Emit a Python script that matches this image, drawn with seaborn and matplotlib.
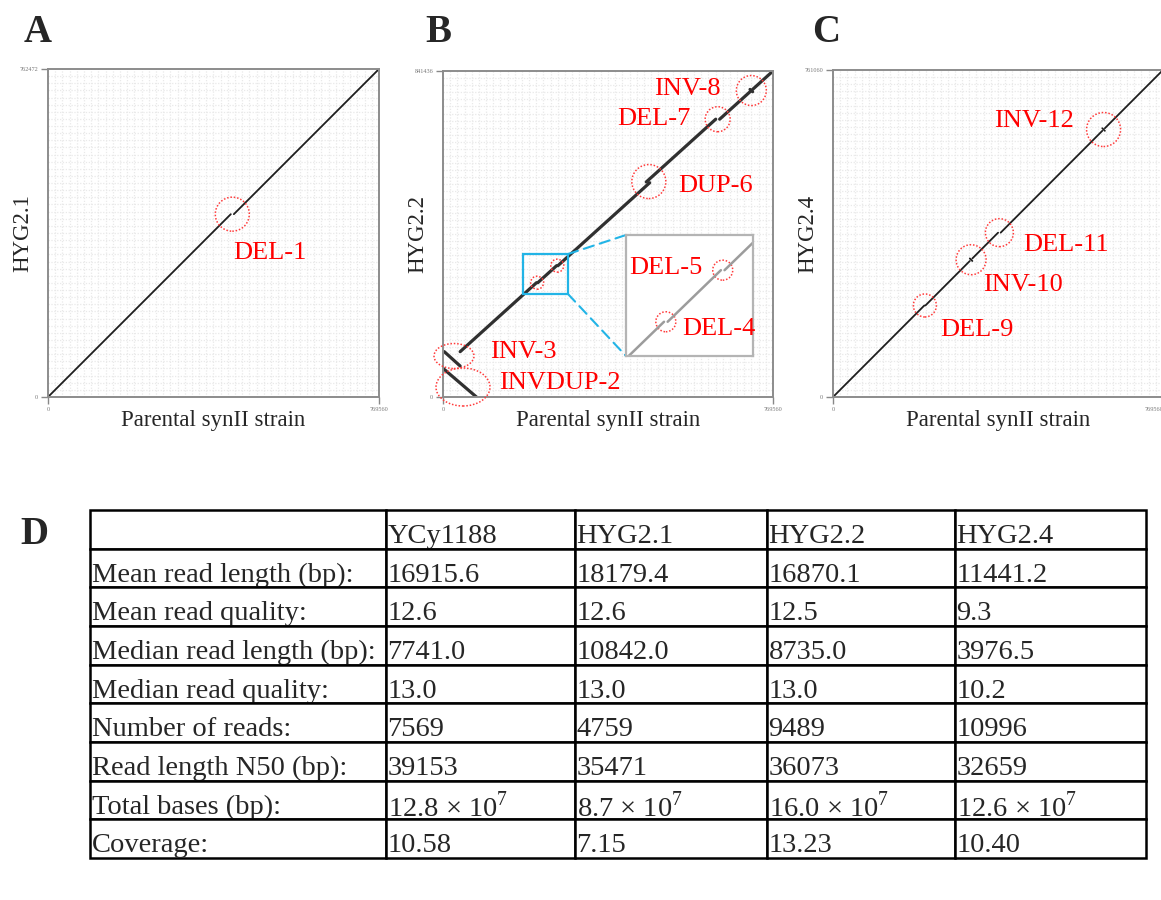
import pandas as pd
import seaborn as sns
import matplotlib.pyplot as plt
from matplotlib.patches import Ellipse, Rectangle, ConnectionPatch
from matplotlib.ticker import MultipleLocator
from matplotlib.transforms import Affine2D

sns.set_style('white')
plt.rcParams['font.family'] = ['Liberation Serif', 'DejaVu Serif']
plt.rcParams['mathtext.fontset'] = 'custom'
plt.rcParams['mathtext.rm'] = 'Liberation Serif'

W, H = 1161, 900

# genome lengths (bp)
parent_len = 769560
hyg21_len = 762472
hyg22_len = 841436
hyg24_len = 761060

# aligned segments of each dot plot: start (x0, y0) -> end (x1, y1)
a_x0 = [0, 432088]
a_y0 = [0, 425000]
a_x1 = [425000, 769560]
a_y1 = [425000, 762472]

b_x0 = [0, 3000, 40000, 221000, 268000, 474000, 645124, 716000, 722000]
b_y0 = [74000, 117000, 117000, 295000, 339000, 555000, 717000, 793876, 793876]
b_x1 = [78000, 40000, 218000, 265000, 482000, 636000, 716000, 722000, 769560]
b_y1 = [0, 80000, 295000, 339000, 553000, 717000, 787876, 787876, 841436]

c_x0 = [0, 215500, 319000, 325000, 391000, 628000, 634000]
c_y0 = [0, 213000, 322500, 322500, 382500, 625500, 625500]
c_x1 = [213000, 319000, 325000, 385000, 628000, 634000, 769560]
c_y1 = [213000, 316500, 316500, 382500, 619500, 619500, 761060]

# structural variant events
a_events = ['DEL-1']
a_ex = [428500]
a_ey = [425000]

b_events = ['INVDUP-2', 'INV-3', 'DEL-4', 'DEL-5', 'DUP-6', 'DEL-7', 'INV-8']
b_ex = [46600, 25650, 219500, 266500, 480000, 640500, 719000]
b_ey = [25800, 105800, 295000, 339000, 556000, 717000, 791000]

c_events = ['DEL-9', 'INV-10', 'DEL-11', 'INV-12']
c_ex = [214250, 322000, 388000, 631000]
c_ey = [213000, 319500, 382500, 622500]

# zoomed region of panel B
zoom_x = [186600, 291500]
zoom_y = [265800, 369000]

# read statistics table
strains = ['YCy1188', 'HYG2.1', 'HYG2.2', 'HYG2.4']
row_labels = ['Mean read length (bp):', 'Mean read quality:', 'Median read length (bp):',
              'Median read quality:', 'Number of reads:', 'Read length N50 (bp):',
              'Total bases (bp):', 'Coverage:']
mean_len = [16915.6, 18179.4, 16870.1, 11441.2]
mean_q = [12.6, 12.6, 12.5, 9.3]
median_len = [7741.0, 10842.0, 8735.0, 3976.5]
median_q = [13.0, 13.0, 13.0, 10.2]
n_reads = [7569, 4759, 9489, 10996]
n50 = [39153, 35471, 36073, 32659]
total_bases_e7 = [12.8, 8.7, 16.0, 12.6]
coverage = [10.58, 7.15, 13.23, 10.40]


def px_rect(l, t, r, b):
    return [l / W, 1 - b / H, (r - l) / W, (b - t) / H]


def seg_frame(x0, y0, x1, y1):
    rows = []
    for i in range(len(x0)):
        rows.append({'seg': i, 'x': x0[i], 'y': y0[i]})
        rows.append({'seg': i, 'x': x1[i], 'y': y1[i]})
    return pd.DataFrame(rows)


def dotplot(ax, df, ymax, ylabel, lw, color):
    sns.lineplot(data=df, x='x', y='y', units='seg', estimator=None, sort=False,
                 color=color, lw=lw, ax=ax, legend=False)
    ax.set_xlim(0, parent_len)
    ax.set_ylim(0, ymax)
    ax.set_xticks([0, parent_len], ['0', str(parent_len)])
    ax.set_yticks([0, ymax], ['0', str(ymax)])
    ax.xaxis.set_minor_locator(MultipleLocator(parent_len / 46))
    ax.yaxis.set_minor_locator(MultipleLocator(ymax / 46))
    ax.grid(which='minor', color='#e9e9e9', ls=(0, (1, 1.3)), lw=0.9)
    ax.grid(which='major', visible=False)
    ax.tick_params(which='minor', length=0)
    ax.tick_params(which='major', length=5, width=1, color='#888888',
                   labelsize=4.5, labelcolor='#777777', pad=2,
                   left=True, bottom=True)
    for s in ax.spines.values():
        s.set_color('#8c8c8c')
        s.set_linewidth(1.4)
    ax.set_xlabel('Parental synII strain', fontsize=16.5)
    ax.set_ylabel(ylabel, fontsize=16.5)
    ax.xaxis.set_label_coords(0.5, -0.040)
    ax.yaxis.set_label_coords(-0.075, 0.5)
    ax.yaxis.label.set_va('center')


def rings(ax, ex, ey, rx, ry, ax_wpx, ax_hpx, ymax):
    for x, y, a, b in zip(ex, ey, rx, ry):
        ax.add_patch(Ellipse((x, y), 2 * a * parent_len / ax_wpx, 2 * b * ymax / ax_hpx,
                             fill=False, ec='#ff3b3b', lw=1.1, ls=(0, (1, 1.2)),
                             clip_on=False, zorder=4))


def labels(ax, names, ex, ey, offs, has):
    for n, x, y, o, ha in zip(names, ex, ey, offs, has):
        ax.annotate(n, xy=(x, y), xytext=o, textcoords='offset pixels', ha=ha,
                    va='center', color='#ff0000', fontsize=19, zorder=6)


fig = plt.figure(figsize=(W / 100, H / 100), dpi=100)

# ---- A
axA = fig.add_axes(px_rect(48, 69, 379, 397))
dotplot(axA, seg_frame(a_x0, a_y0, a_x1, a_y1), hyg21_len, 'HYG2.1', 1.3, '#1e1e1e')
rings(axA, a_ex, a_ey, [17], [17], 331, 328, hyg21_len)
labels(axA, a_events, a_ex, a_ey, [(1, -39)], ['left'])

# ---- B
axB = fig.add_axes(px_rect(443, 71, 773, 397))
dfB = seg_frame(b_x0, b_y0, b_x1, b_y1)
dotplot(axB, dfB, hyg22_len, 'HYG2.2', 2.3, '#303030')
rings(axB, b_ex, b_ey, [27, 20, 6.5, 6.5, 17, 12.5, 15], [19, 12.5, 6.5, 6.5, 17, 12.5, 15],
      330, 326, hyg22_len)
b_lab = ['INVDUP-2', 'INV-3', 'DUP-6', 'DEL-7', 'INV-8']
b_idx = [b_events.index(n) for n in b_lab]
labels(axB, b_lab, [b_ex[i] for i in b_idx], [b_ey[i] for i in b_idx],
       [(36, 4), (36, 4), (29, -4), (-27, 0), (-31, 2)],
       ['left', 'left', 'left', 'right', 'right'])
axB.add_patch(Rectangle((zoom_x[0], zoom_y[0]), zoom_x[1] - zoom_x[0], zoom_y[1] - zoom_y[0],
                        fill=False, ec='#22b4e6', lw=1.6, zorder=5))

axI = fig.add_axes(px_rect(626, 235, 753, 356), zorder=5)
axI.set_facecolor('white')
sns.lineplot(data=dfB, x='x', y='y', units='seg', estimator=None, sort=False,
             color='#9c9c9c', lw=1.8, ax=axI, legend=False)
axI.set_xlim(zoom_x)
axI.set_ylim(zoom_y)
axI.set_xticks([])
axI.set_yticks([])
axI.set_xlabel('')
axI.set_ylabel('')
for s in axI.spines.values():
    s.set_color('#b4b4b4')
    s.set_linewidth(1.6)
zi = [b_events.index('DEL-4'), b_events.index('DEL-5')]
iw = (zoom_x[1] - zoom_x[0]) / 127
ih = (zoom_y[1] - zoom_y[0]) / 121
for i in zi:
    axI.add_patch(Ellipse((b_ex[i], b_ey[i]), 20 * iw, 20 * ih, fill=False,
                          ec='#ff3b3b', lw=1.1, ls=(0, (1, 1.2)), clip_on=False))
labels(axI, ['DEL-4', 'DEL-5'], [b_ex[i] for i in zi], [b_ey[i] for i in zi],
       [(16, -7), (-20, 2)], ['left', 'right'])
for ya, yb in [(zoom_y[1], 1), (zoom_y[0], 0)]:
    fig.add_artist(ConnectionPatch(xyA=(zoom_x[1], ya), coordsA=axB.transData,
                                   xyB=(0, yb), coordsB=axI.transAxes,
                                   color='#22b4e6', lw=1.5, ls=(0, (5, 3))))

# ---- C
axC = fig.add_axes(px_rect(833, 70, 1163, 397))
dotplot(axC, seg_frame(c_x0, c_y0, c_x1, c_y1), hyg24_len, 'HYG2.4', 1.3, '#1e1e1e')
axC.get_xticklabels()[-1].set_ha('right')
rings(axC, c_ex, c_ey, [11.5, 15, 14, 17], [11.5, 15, 14, 17], 330, 327, hyg24_len)
labels(axC, c_events, c_ex, c_ey, [(15, -25), (12, -25), (24, -12), (-30, 9)],
       ['left', 'left', 'left', 'right'])

# ---- D table
axD = fig.add_axes(px_rect(90, 510, 1146, 858))
axD.axis('off')
cols = [mean_len, mean_q, median_len, median_q, n_reads, n50, total_bases_e7, coverage]
fmts = ['{:.1f}', '{:.1f}', '{:.1f}', '{:.1f}', '{:d}', '{:d}', '{:.1f} × 10$^7$', '{:.2f}']
cell_text = [[''] + strains]
for lab, vals, f in zip(row_labels, cols, fmts):
    cell_text.append([lab] + [f.format(v) for v in vals])
col_w = [296, 189, 192, 188, 191]
tbl = axD.table(cellText=cell_text, colWidths=[c / sum(col_w) for c in col_w],
                cellLoc='left', bbox=[0, 0, 1, 1])
tbl.auto_set_font_size(False)
tbl.set_fontsize(20.5)
for (r, c), cell in tbl.get_celld().items():
    cell.set_linewidth(1.8)
    cell.set_edgecolor('black')
    cell.PAD = 0.008
    cell.get_text().set_transform(Affine2D().translate(0, -7))

# panel letters
for lab, x, y in [('A', 38, 32), ('B', 438, 33), ('C', 826, 33), ('D', 34, 534)]:
    fig.text(x / W, 1 - y / H, lab, fontsize=28, fontweight='bold', ha='center', va='center')

fig.savefig('out.png', dpi=100)
